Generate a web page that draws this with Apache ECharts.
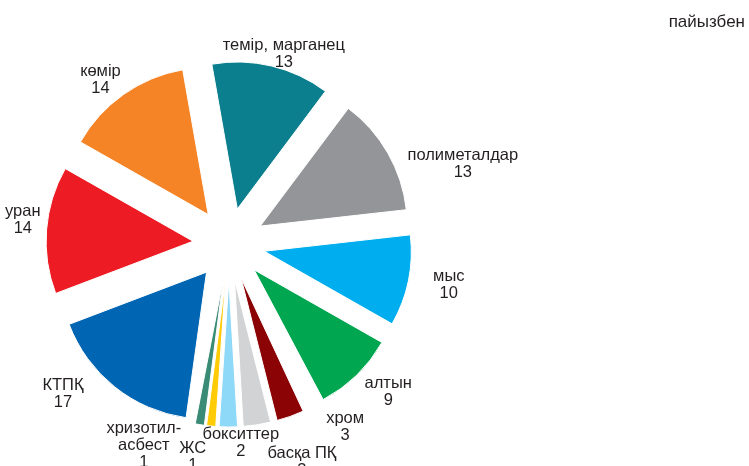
<!DOCTYPE html>
<html>
<head>
<meta charset="utf-8">
<script src="https://cdn.jsdelivr.net/npm/echarts@6/dist/echarts.min.js"></script>
<style>
html,body{margin:0;padding:0;background:#fff;}
#chart{width:749px;height:466px;}
</style>
</head>
<body>
<div id="chart"></div>
<script>
const categories = ['темір, марганец','полиметалдар','мыс','алтын','хром','басқа ПҚ','бокситтер','ЖС','хризотил-\nасбест','КТПҚ','уран','көмір'];
const values = [13,13,10,9,3,3,2,1,1,17,14,14];
const colors = ['#0b7f8e','#939598','#00aeef','#00a650','#8b0304','#d1d3d4','#8ed8f8','#ffcb05','#3a8b75','#0066b3','#ed1c24','#f58426'];
const unitLabel = 'пайызбен';
// the small slices (index range) are drawn slightly rotated, as in the reference
const smallFrom = 4, smallTo = 8;

// label nudges (layout only)
const labelNudge = [[-56,-2],[6,16],[10,2],[-4,10],[18,5],[-6,29],[-41,6],[-9,20],[-22,10],[-20,-1],[9,-9],[8,-6]];

const FONT = '"Liberation Sans", Arial, sans-serif';
const CLEAR = 'rgba(0,0,0,0)';
const isSmall = i => i >= smallFrom && i <= smallTo;
const chart = echarts.init(document.getElementById('chart'), null, {renderer:'canvas'});

const mainData = categories.map((c,i)=>({
  name:c, value:values[i], selected:true,
  itemStyle: isSmall(i) ? {color:CLEAR, borderWidth:0} : {color:colors[i]}
}));
const before = values.slice(0, smallFrom).reduce((a,b)=>a+b,0);
const after = values.slice(smallTo+1).reduce((a,b)=>a+b,0);
const smallData = [{name:'_a', value:before, itemStyle:{color:CLEAR, borderWidth:0}}]
  .concat(categories.slice(smallFrom, smallTo+1).map((c,k)=>({
    name:c, value:values[smallFrom+k], selected:true, itemStyle:{color:colors[smallFrom+k]}
  })))
  .concat([{name:'_b', value:after, itemStyle:{color:CLEAR, borderWidth:0}}]);

const common = {
  type:'pie', center:[229,244], radius:147, clockwise:true,
  selectedMode:'multiple', selectedOffset:36, avoidLabelOverlap:false,
  itemStyle:{borderColor:'#fff', borderWidth:1},
  emphasis:{disabled:true}
};

chart.setOption({
  animation:false,
  graphic:[{type:'text', right:4, top:14, style:{text:unitLabel, font:'17px '+FONT, fill:'#231f20'}}],
  series:[
    Object.assign({}, common, {
      startAngle:100,
      labelLayout:(p)=>({dx:labelNudge[p.dataIndex][0], dy:labelNudge[p.dataIndex][1], hideOverlap:false}),
      label:{show:true, position:'outside',
        formatter:(p)=>p.name.split('\n').map(s=>'{n|'+s+'}').join('\n')+'\n{n|'+p.value+'}',
        rich:{n:{align:'center', color:'#231f20', fontFamily:FONT, fontSize:16.5, lineHeight:17}}},
      labelLine:{show:false, length:10, length2:0},
      data:mainData
    }),
    Object.assign({}, common, {
      startAngle:97, silent:true,
      label:{show:false}, labelLine:{show:false},
      data:smallData
    })
  ]
});
</script>
</body>
</html>
